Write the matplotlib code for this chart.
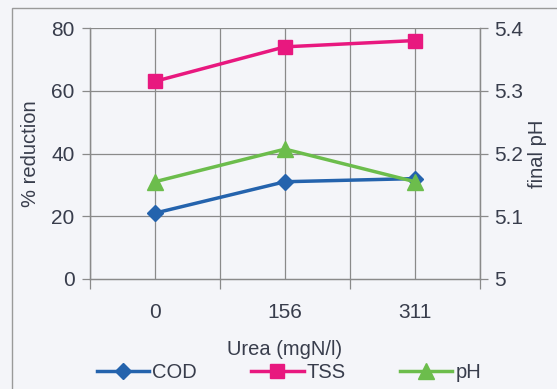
import matplotlib
matplotlib.use('Agg')
import matplotlib.pyplot as plt
from matplotlib.patches import Rectangle

# urea dose categories and measured responses
urea_labels = ["0", "156", "311"]
cod_reduction = [21, 31, 32]
tss_reduction = [63, 74, 76]
final_ph = [5.155, 5.207, 5.155]

plt.rcParams['font.family'] = ['Liberation Sans', 'DejaVu Sans']
txt = "#383d4c"
grid = "#8a8a8a"
bg = "#f4f5f9"

fig = plt.figure(figsize=(5.57, 3.89), dpi=100, facecolor=bg)
fig.patches.append(Rectangle((12 / 557, -0.1), 1.2, 1 - 8 / 389 + 0.1,
                             transform=fig.transFigure, fill=False,
                             edgecolor="#9a9a9a", lw=1.0))

ax = fig.add_axes([90 / 557, 1 - 279 / 389, 390 / 557, 251 / 389])
ax.set_facecolor(bg)
ax2 = ax.twinx()

x = list(range(len(urea_labels)))
h1, = ax.plot(x, cod_reduction, color="#2463ad", lw=2.5, marker="D", ms=8.5, label="COD", zorder=3)
h2, = ax.plot(x, tss_reduction, color="#e8187f", lw=2.5, marker="s", ms=10, label="TSS", zorder=3)
h3, = ax2.plot(x, final_ph, color="#6cbd4c", lw=2.5, marker="^", ms=11, label="pH", zorder=3)

ax.set_xlim(-0.5, 2.5)
ax.set_ylim(0, 80)
ax2.set_ylim(5.0, 5.4)

# category gridlines at centres and boundaries
for v in [-0.5, 0, 0.5, 1, 1.5, 2, 2.5]:
    ax.axvline(v, color=grid, lw=0.9, zorder=1)
for v in [20, 40, 60, 80]:
    ax.axhline(v, color=grid, lw=0.9, zorder=1)

ax.set_xticks(x)
ax.set_xticklabels(urea_labels)
ax.set_xticks([-0.5, 0.5, 1.5, 2.5], minor=True)
ax.tick_params(axis="x", which="major", length=0, pad=17, labelsize=15, labelcolor=txt)
ax.tick_params(axis="x", which="minor", length=7, color=grid, width=0.9)
ax.set_yticks([0, 20, 40, 60, 80])
ax.tick_params(axis="y", length=6, color=grid, width=0.9, pad=5, labelsize=15, labelcolor=txt)
ax2.set_yticks([5.0, 5.1, 5.2, 5.3, 5.4])
ax2.set_yticklabels(["5", "5.1", "5.2", "5.3", "5.4"])
ax2.tick_params(axis="y", length=6, color=grid, width=0.9, pad=4, labelsize=15, labelcolor=txt)

for a in (ax, ax2):
    for s in a.spines.values():
        s.set_color(grid)
        s.set_linewidth(0.9)
    a.spines["top"].set_visible(False)

ax.set_xlabel("Urea (mgN/l)", fontsize=14.5, color=txt, labelpad=13)
ax.set_ylabel("% reduction", fontsize=14.5, color=txt, labelpad=8)
ax2.set_ylabel("final pH", fontsize=14.5, color=txt, labelpad=4, rotation=90)

fig.legend(handles=[h1, h2, h3], loc="center", bbox_to_anchor=(289 / 557, 1 - 373 / 389),
           ncol=3, frameon=False, fontsize=14.5, handlelength=2.6, handletextpad=0.15,
           columnspacing=2.7, labelcolor=txt)

fig.savefig("out.png", dpi=100, facecolor=bg)
